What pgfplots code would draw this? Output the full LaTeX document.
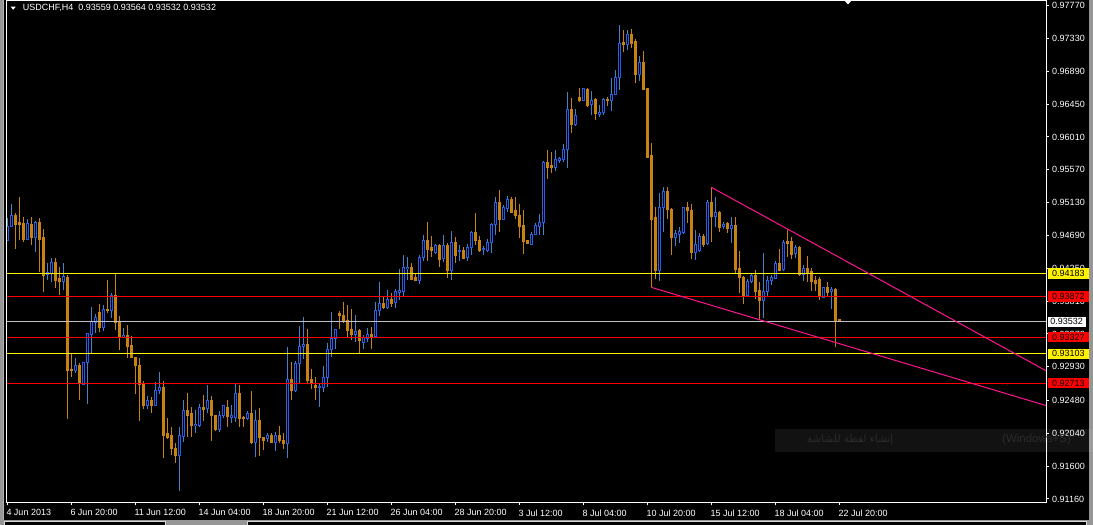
\documentclass[border=0pt]{standalone}
\usepackage{pgfplots}
\pgfplotsset{compat=1.18}
\usepackage{pgfplotstable}
\usepackage{fontspec}
\setmainfont{Liberation Sans}
\newfontfamily\arabicfont[Script=Arabic]{DejaVu Sans}
\TeXXeTstate=1
\definecolor{bearc}{RGB}{200,130,18}
\definecolor{bullc}{RGB}{35,95,235}
\definecolor{bullw}{RGB}{70,130,200}
\definecolor{tl}{RGB}{255,20,147}
\definecolor{bidc}{RGB}{192,192,192}
\definecolor{ttc}{RGB}{44,44,44}
\definecolor{chrome}{RGB}{150,150,150}

\pgfplotstableread{
i O H L C
0 0.94620 0.94920 0.94620 0.94807
1 0.94807 0.95111 0.94807 0.94951
5 0.94638 0.94906 0.94629 0.94853
7 0.94660 0.94884 0.94472 0.94870
10 0.94169 0.94317 0.94093 0.94196
11 0.94183 0.94384 0.94070 0.94334
14 0.94070 0.94321 0.93959 0.94143
17 0.92874 0.93044 0.92851 0.92954
19 0.92699 0.92998 0.92686 0.92990
20 0.92985 0.93379 0.92435 0.93379
21 0.93369 0.93735 0.93101 0.93540
22 0.93526 0.93637 0.93379 0.93597
24 0.93454 0.93758 0.93414 0.93704
26 0.93682 0.93919 0.93588 0.93892
29 0.93329 0.93450 0.93312 0.93356
35 0.92418 0.92539 0.92364 0.92481
37 0.92418 0.92726 0.92405 0.92619
38 0.92606 0.92860 0.92565 0.92659
43 0.91739 0.92123 0.91270 0.92003
44 0.91993 0.92485 0.91926 0.92347
47 0.92137 0.92351 0.92039 0.92163
48 0.92150 0.92427 0.92127 0.92391
50 0.92368 0.92686 0.92307 0.92485
53 0.92096 0.92342 0.92060 0.92284
54 0.92275 0.92405 0.92248 0.92405
56 0.92257 0.92418 0.92181 0.92284
57 0.92257 0.92703 0.92194 0.92579
60 0.92234 0.92338 0.92217 0.92311
62 0.91913 0.92351 0.91725 0.92213
65 0.91972 0.92039 0.91926 0.92003
67 0.91913 0.92052 0.91806 0.92003
70 0.91899 0.93195 0.91712 0.92766
72 0.92610 0.93008 0.92596 0.92981
73 0.92971 0.93477 0.92709 0.93205
74 0.93205 0.93597 0.93038 0.93235
78 0.92655 0.92709 0.92395 0.92663
79 0.92655 0.92941 0.92596 0.92793
80 0.92784 0.93245 0.92663 0.93168
81 0.93159 0.93664 0.93065 0.93312
82 0.93312 0.93432 0.93168 0.93432
87 0.93369 0.93624 0.93266 0.93406
89 0.93262 0.93356 0.93168 0.93320
90 0.93312 0.93450 0.93266 0.93365
92 0.93333 0.93798 0.93312 0.93691
93 0.93682 0.94066 0.93615 0.93781
95 0.93727 0.93959 0.93700 0.93834
97 0.93789 0.93972 0.93714 0.93942
98 0.93932 0.94236 0.93825 0.93950
99 0.93936 0.94428 0.93879 0.94263
100 0.94244 0.94397 0.94093 0.94263
103 0.94093 0.94428 0.94039 0.94397
104 0.94392 0.94696 0.94352 0.94629
107 0.94468 0.94575 0.94441 0.94558
109 0.94378 0.94696 0.94334 0.94558
111 0.94214 0.94750 0.94093 0.94602
113 0.94478 0.94562 0.94352 0.94486
115 0.94401 0.94575 0.94352 0.94531
116 0.94526 0.94750 0.94428 0.94723
119 0.94504 0.94549 0.94432 0.94512
120 0.94495 0.94642 0.94468 0.94602
121 0.94602 0.94861 0.94455 0.94843
122 0.94834 0.95205 0.94696 0.95125
124 0.94910 0.95098 0.94897 0.95058
125 0.95048 0.95219 0.95008 0.95178
131 0.94575 0.94736 0.94566 0.94709
132 0.94705 0.94857 0.94696 0.94817
133 0.94807 0.94977 0.94696 0.94870
134 0.94861 0.95688 0.94696 0.95661
137 0.95598 0.95835 0.95558 0.95701
138 0.95692 0.95745 0.95665 0.95718
139 0.95705 0.95915 0.95678 0.95844
140 0.95839 0.96612 0.95594 0.96384
142 0.96174 0.96384 0.96157 0.96300
144 0.96496 0.96662 0.96496 0.96662
146 0.96438 0.96626 0.96304 0.96501
148 0.96308 0.96438 0.96277 0.96344
149 0.96335 0.96532 0.96304 0.96518
151 0.96496 0.96796 0.96358 0.96581
152 0.96576 0.96907 0.96568 0.96809
153 0.96809 0.97510 0.96639 0.97265
155 0.97251 0.97443 0.97175 0.97385
158 0.96853 0.97095 0.96764 0.97001
163 0.94227 0.95259 0.94084 0.95062
164 0.95058 0.95339 0.94736 0.95282
167 0.94669 0.94767 0.94553 0.94719
168 0.94709 0.94803 0.94593 0.94740
169 0.94727 0.95067 0.94709 0.95067
172 0.94455 0.94759 0.94361 0.94571
173 0.94486 0.94719 0.94472 0.94679
175 0.94585 0.95165 0.94558 0.95134
177 0.94941 0.95201 0.94803 0.95000
179 0.94813 0.94874 0.94776 0.94843
181 0.94780 0.94933 0.94589 0.94826
185 0.93879 0.94102 0.93861 0.94076
186 0.94076 0.94183 0.94049 0.94160
189 0.93816 0.94455 0.93580 0.93942
190 0.93936 0.94147 0.93861 0.94089
191 0.94084 0.94160 0.94026 0.94120
192 0.94110 0.94348 0.94102 0.94317
194 0.94236 0.94629 0.94218 0.94589
197 0.94445 0.94558 0.94384 0.94531
199 0.94169 0.94294 0.94080 0.94250
204 0.93861 0.93986 0.93861 0.93986
206 0.93936 0.93995 0.93704 0.93972
}\bull

\pgfplotstableread{
i O H L C
2 0.94951 0.94995 0.94508 0.94843
3 0.94857 0.95209 0.94629 0.94843
4 0.94853 0.94933 0.94602 0.94638
6 0.94843 0.94933 0.94562 0.94660
8 0.94870 0.94920 0.94204 0.94642
9 0.94656 0.94772 0.93936 0.94160
12 0.94334 0.94384 0.93982 0.94093
13 0.94110 0.94263 0.93892 0.94070
15 0.94133 0.94160 0.92230 0.92887
16 0.92900 0.93097 0.92797 0.92874
18 0.92954 0.92985 0.92485 0.92709
23 0.93651 0.93775 0.93400 0.93454
25 0.93704 0.94093 0.93647 0.93678
27 0.93892 0.94183 0.93423 0.93521
28 0.93530 0.93611 0.93155 0.93329
30 0.93356 0.93490 0.93044 0.93199
31 0.93222 0.93343 0.93052 0.93052
32 0.93061 0.93061 0.92569 0.92945
33 0.92954 0.93052 0.92208 0.92695
34 0.92703 0.92740 0.92364 0.92418
36 0.92485 0.92529 0.92315 0.92418
39 0.92659 0.92740 0.91712 0.92016
40 0.92033 0.92244 0.91962 0.91989
41 0.92003 0.92123 0.91748 0.91832
42 0.91838 0.91909 0.91645 0.91739
45 0.92347 0.92579 0.91993 0.92284
46 0.92307 0.92391 0.91993 0.92137
49 0.92391 0.92552 0.92208 0.92364
51 0.92472 0.92539 0.91936 0.92275
52 0.92284 0.92284 0.92070 0.92096
55 0.92391 0.92485 0.92127 0.92261
58 0.92579 0.92686 0.92127 0.92234
59 0.92257 0.92275 0.92127 0.92240
61 0.92311 0.92606 0.91899 0.91922
63 0.92213 0.92378 0.91739 0.91980
64 0.91985 0.91993 0.91815 0.91949
66 0.92003 0.92039 0.91913 0.91913
68 0.92003 0.92141 0.91913 0.91936
69 0.91949 0.92043 0.91828 0.91899
71 0.92766 0.92994 0.92489 0.92610
75 0.93235 0.93432 0.92695 0.92753
76 0.92766 0.92900 0.92632 0.92713
77 0.92673 0.92793 0.92489 0.92650
83 0.93641 0.93678 0.93436 0.93615
84 0.93624 0.93798 0.93513 0.93534
85 0.93544 0.93758 0.93333 0.93423
86 0.93436 0.93704 0.93289 0.93369
88 0.93423 0.93436 0.93101 0.93280
91 0.93369 0.93467 0.93168 0.93329
94 0.93781 0.93869 0.93700 0.93727
96 0.93829 0.93919 0.93735 0.93781
101 0.94267 0.94317 0.94093 0.94106
102 0.94124 0.94183 0.94093 0.94093
105 0.94629 0.94870 0.94352 0.94508
106 0.94522 0.94683 0.94397 0.94482
108 0.94558 0.94571 0.94263 0.94374
110 0.94558 0.94585 0.94120 0.94214
112 0.94602 0.94673 0.94321 0.94428
114 0.94482 0.94531 0.94370 0.94384
117 0.94723 0.94991 0.94566 0.94620
118 0.94629 0.94683 0.94468 0.94495
123 0.95125 0.95299 0.94736 0.94910
126 0.95178 0.95205 0.94987 0.95000
127 0.95018 0.95209 0.94910 0.94951
128 0.94964 0.95111 0.94660 0.94807
129 0.94817 0.95031 0.94445 0.94606
130 0.94616 0.94616 0.94579 0.94579
135 0.95661 0.95835 0.95446 0.95607
136 0.95625 0.95808 0.95523 0.95598
141 0.96384 0.96532 0.96067 0.96174
143 0.96532 0.96666 0.96478 0.96492
145 0.96652 0.96666 0.96411 0.96425
147 0.96505 0.96532 0.96237 0.96321
150 0.96518 0.96541 0.96425 0.96501
154 0.97273 0.97443 0.97148 0.97242
156 0.97389 0.97452 0.97198 0.97265
157 0.97282 0.97322 0.96733 0.96853
159 0.97001 0.97158 0.96639 0.96652
160 0.96662 0.96662 0.95732 0.95732
161 0.95755 0.95929 0.93995 0.94910
162 0.94924 0.95071 0.94106 0.94227
165 0.95282 0.95339 0.94914 0.95035
166 0.95044 0.95058 0.94428 0.94669
170 0.95067 0.95138 0.94853 0.95018
171 0.95031 0.95111 0.94378 0.94459
174 0.94679 0.94705 0.94539 0.94571
176 0.95134 0.95335 0.94598 0.94941
178 0.95000 0.95014 0.94736 0.94799
180 0.94847 0.94870 0.94727 0.94780
182 0.94826 0.94933 0.94173 0.94231
183 0.94250 0.94482 0.93923 0.94124
184 0.94133 0.94151 0.93775 0.93875
187 0.94160 0.94227 0.93842 0.93936
188 0.93946 0.94066 0.93566 0.93816
193 0.94317 0.94508 0.94214 0.94227
195 0.94606 0.94763 0.94397 0.94585
196 0.94606 0.94669 0.94378 0.94441
198 0.94535 0.94545 0.94151 0.94169
200 0.94250 0.94411 0.94070 0.94200
201 0.94210 0.94250 0.93946 0.94070
202 0.94080 0.94143 0.93950 0.94043
203 0.94102 0.94129 0.93829 0.93869
205 0.93990 0.94062 0.93879 0.93932
207 0.93972 0.93982 0.93199 0.93544
208 0.93559 0.93564 0.93532 0.93532
}\bear

\begin{document}
\begin{tikzpicture}[x=1pt,y=1pt]
\useasboundingbox (0,0) rectangle (1093,525);
\fill[black] (0,0) rectangle (1093,525);
% window chrome
\fill[chrome] (0,0) rectangle (3,525);
\fill[gray!60] (3,0) rectangle (4,525);
\fill[chrome] (1089,0) rectangle (1093,525);
\fill[chrome] (0,0) rectangle (1093,4.5);
\draw[white!85!black, fill=black] (4,-2) rectangle (165,3.5);
\draw[white!85!black, fill=black] (247,-2) rectangle (1086,3.5);

\begin{axis}[
  at={(6.5pt,22.5pt)}, anchor=south west, scale only axis,
  width=1039.5pt, height=502pt,
  xmin=-0.2, xmax=259.675, ymin=0.91112, ymax=0.97838,
  clip mode=individual, axis on top,
  axis line style={white, line width=1pt},
  xtick pos=left, ytick pos=right, yticklabel pos=right,
  tick align=outside, major tick length=3pt,
  tick style={white, line width=1pt},
  xtick={0,16,...,208},
  xticklabels={4 Jun 2013,6 Jun 20:00,11 Jun 12:00,14 Jun 04:00,18 Jun 20:00,21 Jun 12:00,26 Jun 04:00,28 Jun 20:00,3 Jul 12:00,8 Jul 04:00,10 Jul 20:00,15 Jul 12:00,18 Jul 04:00,22 Jul 20:00},
  ytick={0.97770,0.97330,0.96890,0.96450,0.96010,0.95570,0.95130,0.94690,0.94250,0.93810,0.93370,0.92930,0.92480,0.92040,0.91600,0.91160},
  yticklabels={0.97770,0.97330,0.96890,0.96450,0.96010,0.95570,0.95130,0.94690,0.94250,0.93810,0.93370,0.92930,0.92480,0.92040,0.91600,0.91160},
  scaled y ticks=false,
  tick label style={text=white, font=\fontsize{9}{9}\selectfont, inner sep=0pt},
  xticklabel style={anchor=north west, xshift=-1pt, yshift=-4pt},
  yticklabel style={anchor=west, xshift=3pt},
]
% wicks
\addplot[bullw, line width=1pt, quiver={u=0, v=\thisrow{H}-\thisrow{L}}] table[x=i, y=L] {\bull};
\addplot[bearc, line width=1pt, quiver={u=0, v=\thisrow{H}-\thisrow{L}}] table[x=i, y=L] {\bear};
% bodies
\addplot[bullc, line width=3pt, quiver={u=0, v=\thisrow{C}-\thisrow{O}+0.000134}] table[x=i, y expr=\thisrow{O}-0.000067] {\bull};
\addplot[black, line width=1pt, quiver={u=0, v={max(\thisrow{C}-\thisrow{O}-0.000134,0.000001)}}] table[x=i, y expr=\thisrow{O}+0.000067] {\bull};
\addplot[bearc, line width=3pt, quiver={u=0, v=\thisrow{O}-\thisrow{C}+0.000134}] table[x=i, y expr=\thisrow{C}-0.000067] {\bear};
% horizontal levels
\addplot[yellow, line width=1pt] coordinates {(-5,0.94183) (265,0.94183)};
\addplot[red, line width=1pt] coordinates {(-5,0.93872) (265,0.93872)};
\addplot[bidc, line width=1pt] coordinates {(-5,0.93532) (265,0.93532)};
\addplot[red, line width=0.9pt] coordinates {(-5,0.93327) (265,0.93327)};
\addplot[yellow, line width=1pt] coordinates {(-5,0.93103) (265,0.93103)};
\addplot[red, line width=0.9pt] coordinates {(-5,0.92713) (265,0.92713)};
% trend lines
\addplot[tl, line width=1pt] coordinates {(176.0,0.95335) (259.675,0.92878)};
\addplot[tl, line width=1pt] coordinates {(161.0,0.93995) (259.675,0.92411)};
\coordinate (p1) at (axis cs:0,0.94183);
\coordinate (p2) at (axis cs:0,0.93872);
\coordinate (p3) at (axis cs:0,0.93532);
\coordinate (p4) at (axis cs:0,0.93327);
\coordinate (p5) at (axis cs:0,0.93103);
\coordinate (p6) at (axis cs:0,0.92713);
\end{axis}

% price level boxes
\coordinate (R) at (1047.5,0);
\tikzset{lbl/.style={anchor=west, inner sep=0pt, minimum height=10.5pt, text=black, font=\fontsize{9}{9}\selectfont}}
\node[lbl, fill=yellow, minimum width=41.5pt] at (p1 -| R) {0.94183};
\node[lbl, fill=red, minimum width=41.5pt] at (p2 -| R) {0.93872};
\node[lbl, fill=white, minimum width=38pt] at (p3 -| R) {0.93532};
\node[lbl, fill=red, minimum width=41.5pt] at (p4 -| R) {0.93327};
\node[lbl, fill=yellow, minimum width=41.5pt] at (p5 -| R) {0.93103};
\node[lbl, fill=red, minimum width=41.5pt] at (p6 -| R) {0.92713};

% faint screen tooltip
\fill[white, opacity=0.07] (775,73) rectangle (1093,96);
\node[text=ttc, inner sep=0pt, font=\arabicfont\fontsize{10.5}{10.5}\selectfont] at (850,85) {\beginR إنشاء لقطة للشاشة\endR};
\node[text=ttc, anchor=west, inner sep=0pt, font=\fontsize{11.5}{11.5}\selectfont] at (1002,85) {(Windows+S)};

% title
\fill[white] (10.7,518.3) -- (15.7,518.3) -- (13.2,515.2) -- cycle;
\node[anchor=base west, inner sep=0pt, text=white, font=\fontsize{9}{9}\selectfont] at (22.7,514) {USDCHF,H4\ \ 0.93559 0.93564 0.93532 0.93532};
% shift marker
\fill[white] (844,525) -- (852,525) -- (848,520.5) -- cycle;
\end{tikzpicture}
\end{document}
